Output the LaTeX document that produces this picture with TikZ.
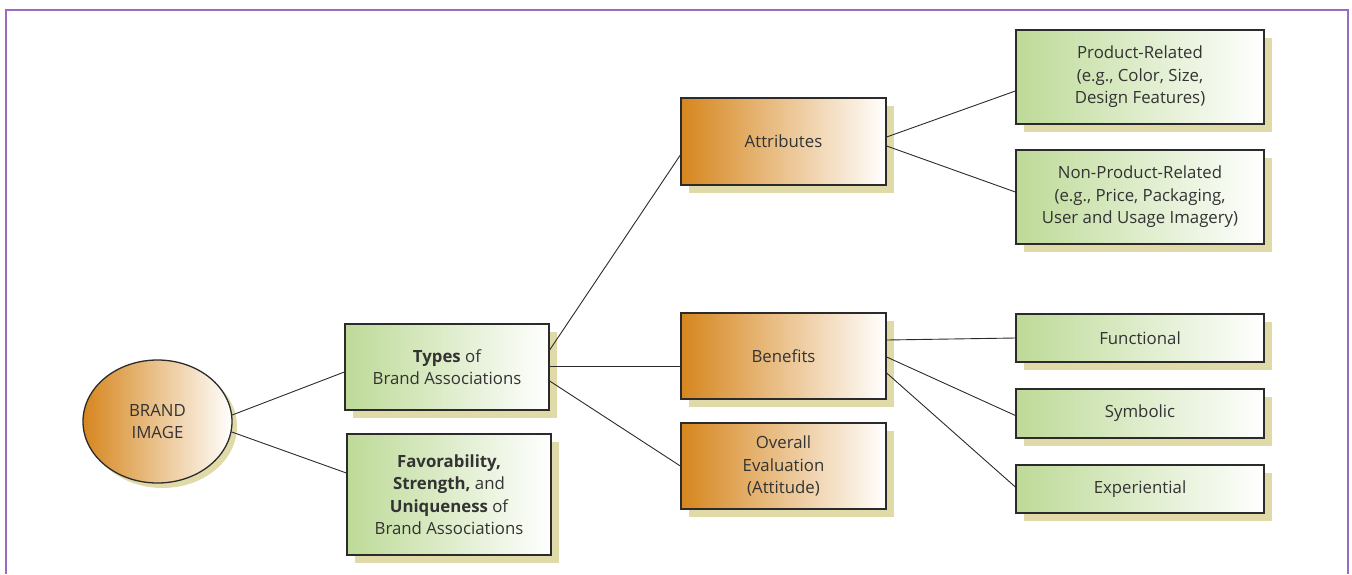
\documentclass[tikz,border=0pt]{standalone}
\usepackage{fontspec}
\setmainfont{Open Sans}
\usetikzlibrary{shapes.geometric,shadows}
\definecolor{frame}{HTML}{9A6BC0}
\definecolor{ink}{HTML}{2B2B2B}
\definecolor{txt}{HTML}{333333}
\definecolor{orangeL}{HTML}{D6861E}
\definecolor{greenL}{HTML}{BDDA97}
\definecolor{shade}{HTML}{E0DAA8}
\tikzset{
  every node/.style={text=txt, font=\fontsize{16.8}{22.5}\selectfont, align=center},
  boxbase/.style={draw=ink, line width=1.3pt, rectangle, inner sep=0pt,
    drop shadow={shadow xshift=8pt, shadow yshift=-8pt, fill=shade, opacity=1}},
  orangebox/.style={boxbase, left color=orangeL, right color=white, minimum width=205pt},
  greenbox/.style={boxbase, left color=greenL, right color=white},
  link/.style={draw=ink, line width=0.9pt},
}
\begin{document}
\begin{tikzpicture}[x=1pt,y=-1pt]
\useasboundingbox (0,0) rectangle (1352,574);
% outer frame, open at the bottom
\draw[frame, line width=1.5pt] (6,574) -- (6,10) -- (1348,10) -- (1348,574);

% root
\node[ellipse, draw=ink, line width=1.3pt, left color=orangeL, right color=white,
  minimum width=149pt, minimum height=123pt, inner sep=0pt,
  drop shadow={shadow xshift=5pt, shadow yshift=-5pt, fill=shade, opacity=1}]
  (brand) at (157.5,421.5) {BRAND\\IMAGE};

% second level
\node[greenbox, minimum width=204pt, minimum height=86pt] (types) at (447,367)
  {\textbf{Types} of\\Brand Associations};
\node[greenbox, minimum width=204pt, minimum height=121pt] (fav) at (449,494.5)
  {\textbf{Favorability,}\\\textbf{Strength,} and\\\textbf{Uniqueness} of\\Brand Associations};

% third level
\node[orangebox, minimum height=87pt] (attr) at (783.5,141.5) {Attributes};
\node[orangebox, minimum height=86pt] (ben) at (783.5,356) {Benefits};
\node[orangebox, minimum height=86pt] (overall) at (783.5,466) {Overall\\Evaluation\\(Attitude)};

% leaves
\node[greenbox, minimum width=248pt, minimum height=94pt] (prod) at (1140,77)
  {Product-Related\\(e.g., Color, Size,\\Design Features)};
\node[greenbox, minimum width=248pt, minimum height=94pt] (nonprod) at (1140,197)
  {Non-Product-Related\\(e.g., Price, Packaging,\\User and Usage Imagery)};
\node[greenbox, minimum width=248pt, minimum height=48pt] (func) at (1140,338) {Functional};
\node[greenbox, minimum width=248pt, minimum height=49pt] (symb) at (1140,413.5) {Symbolic};
\node[greenbox, minimum width=248pt, minimum height=48pt] (exper) at (1140,489) {Experiential};

% connectors
\draw[link] (brand.5) -- ([yshift=-5pt]types.west);
\draw[link] (brand.-8) -- ([yshift=21.5pt]fav.west);
\draw[link] ([yshift=17pt]types.east) -- ([yshift=-13.5pt]attr.west);
\draw[link] ([yshift=1pt]types.east) -- ([yshift=-10pt]ben.west);
\draw[link] ([yshift=-14pt]types.east) -- (overall.west);
\draw[link] ([yshift=4.5pt]attr.east) -- ([yshift=-14pt]prod.west);
\draw[link] ([yshift=-4.5pt]attr.east) -- ([yshift=5pt]nonprod.west);
\draw[link] ([yshift=16pt]ben.east) -- (func.west);
\draw[link] ([yshift=-1pt]ben.east) -- ([yshift=-2pt]symb.west);
\draw[link] ([yshift=-17pt]ben.east) -- ([yshift=2pt]exper.west);
\end{tikzpicture}
\end{document}
